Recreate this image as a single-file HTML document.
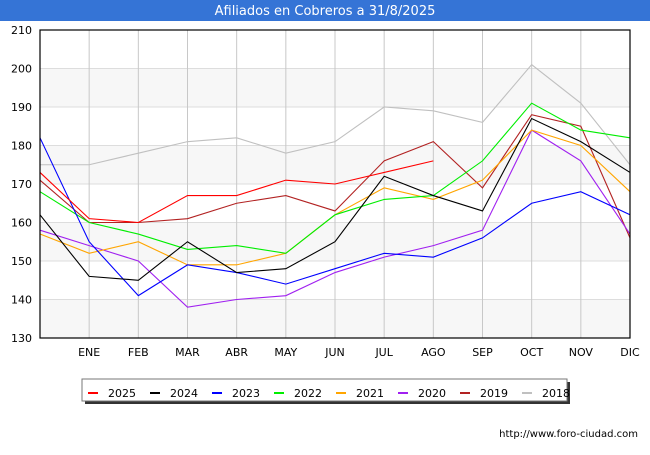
<!DOCTYPE html>
<html><head><meta charset="utf-8"><style>
body{margin:0;background:#fff;font-family:"Liberation Sans","DejaVu Sans",sans-serif}
#c{position:relative;width:650px;height:450px}
</style></head><body>
<div id="c">
<svg id="s" width="650" height="450" xmlns="http://www.w3.org/2000/svg">
<rect x="0" y="0" width="650" height="21" fill="#3574d6"/>
<text x="325" y="15" text-anchor="middle" font-size="13" fill="#fff" font-family="DejaVu Sans, sans-serif">Afiliados en Cobreros a 31/8/2025</text>
<g id="grid"></g><g id="lines"></g><g id="axes"></g>
<text x="638" y="437" text-anchor="end" font-size="10" fill="#000" font-family="DejaVu Sans, sans-serif">http://www.foro-ciudad.com</text>
</svg>
</div>
<script>
const months=["ENE","FEB","MAR","ABR","MAY","JUN","JUL","AGO","SEP","OCT","NOV","DIC"];
const yTicks=[130,140,150,160,170,180,190,200,210];
const years=["2025","2024","2023","2022","2021","2020","2019","2018"];
const colors=["#ff0000","#000000","#0000ff","#00ee00","#ffa500","#a020f0","#b22222","#c0c0c0"];
const s2025=[173,161,160,167,167,171,170,173,176];
const s2024=[162,146,145,155,147,148,155,172,167,163,187,181,173];
const s2023=[182,155,141,149,147,144,148,152,151,156,165,168,162];
const s2022=[168,160,157,153,154,152,162,166,167,176,191,184,182];
const s2021=[157,152,155,149,149,152,162,169,166,171,184,180,168];
const s2020=[158,154,150,138,140,141,147,151,154,158,184,176,157];
const s2019=[171,160,160,161,165,167,163,176,181,169,188,185,156];
const s2018=[175,175,178,181,182,178,181,190,189,186,201,191,175];
const series=[s2025,s2024,s2023,s2022,s2021,s2020,s2019,s2018];
const X0=40,X1=630,Y0=338,Y1=30,ymin=130,ymax=210;
const xs=i=>X0+(X1-X0)*i/12;
const ys=v=>Y0-(v-ymin)/(ymax-ymin)*(Y0-Y1);
const NS="http://www.w3.org/2000/svg";
function mk(t,a,p){const e=document.createElementNS(NS,t);for(const k in a)e.setAttribute(k,a[k]);p.appendChild(e);return e;}
const g=document.getElementById('grid'),L=document.getElementById('lines'),A=document.getElementById('axes'),S=document.getElementById('s');
for(let i=0;i<yTicks.length-1;i++){
 if(i%2==0){const r=mk('rect',{x:X0,y:ys(yTicks[i+1]),width:X1-X0,height:ys(yTicks[i])-ys(yTicks[i+1]),fill:'#f7f7f7'},g);
 
 }
}
yTicks.forEach(v=>{const l=mk('line',{x1:X0,x2:X1,y1:ys(v),y2:ys(v),stroke:'#dddddd'},g);
 
 
 const t=mk('text',{x:X0-8,y:ys(v)+4,'text-anchor':'end','font-size':11,'font-family':'DejaVu Sans, sans-serif'},A);t.textContent=v;
 
 });
months.forEach((m,i)=>{const x=xs(i+1);const l=mk('line',{x1:x,x2:x,y1:Y1,y2:Y0,stroke:'#c8c8c8'},g);
 
 
 const t=mk('text',{x:x,y:356,'text-anchor':'middle','font-size':11,'font-family':'DejaVu Sans, sans-serif'},A);t.textContent=m;
 
 });
const fr=mk('rect',{x:X0,y:Y1,width:X1-X0,height:Y0-Y1,fill:'none',stroke:'#000','stroke-width':1.2},A);


for(let k=series.length-1;k>=0;k--){
 const pts=series[k].map((v,i)=>xs(i)+','+ys(v)).join(' ');
 const p=mk('polyline',{points:pts,fill:'none',stroke:colors[k],'stroke-width':1.1},L);
 
 
}
// legend
const lg=mk('g',{},S);


mk('rect',{x:85,y:382,width:485,height:22,fill:'#333'},lg);
mk('rect',{x:82,y:379,width:485,height:22,fill:'#fff',stroke:'#777'},lg);
years.forEach((y,k)=>{const x=88+k*62;
 const sw=mk('line',{x1:x,x2:x+10,y1:393,y2:393,stroke:colors[k],'stroke-width':2},lg);
 
 
 const t=mk('text',{x:x+20,y:397,'font-size':11,'font-family':'DejaVu Sans, sans-serif'},lg);t.textContent=y;
 
 });
</script>
</body></html>
